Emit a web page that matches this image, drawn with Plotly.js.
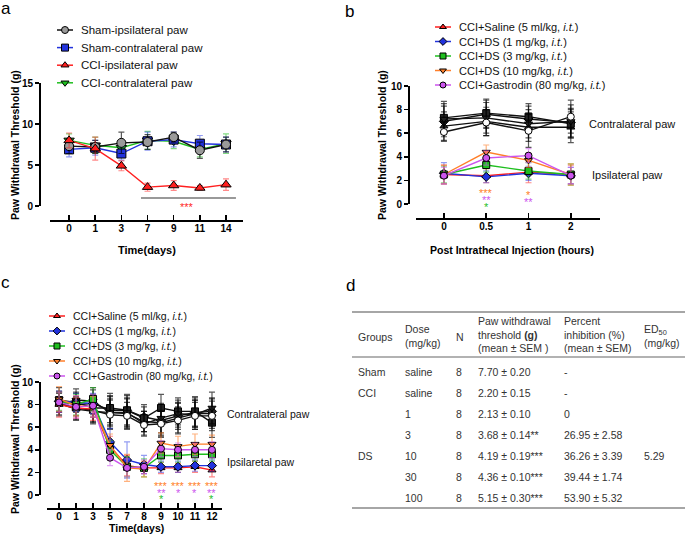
<!DOCTYPE html>
<html><head><meta charset="utf-8">
<script src="https://cdn.plot.ly/plotly-3.0.1.min.js"></script>
<style>html,body{margin:0;padding:0;background:#fff}</style>
</head><body><div id="chart" style="width:685px;height:534px"></div>
<script>
// ---------------- Panel a data ----------------
const daysA = ['0','1','3','7','9','11','14'];
const shamIpsi = [7.3, 7.2, 7.7, 7.8, 8.4, 6.8, 7.5];
const shamIpsiErr = [0.9, 0.8, 1.3, 0.9, 0.6, 1.0, 0.9];
const shamContra = [6.9, 7.1, 6.4, 7.9, 8.1, 7.6, 7.5];
const shamContraErr = [0.9, 0.9, 0.8, 1.1, 0.9, 1.0, 0.9];
const cciIpsi = [8.0, 7.0, 4.9, 2.3, 2.5, 2.2, 2.6];
const cciIpsiErr = [0.9, 1.4, 0.6, 0.5, 0.6, 0.3, 0.7];
const cciContra = [8.0, 7.4, 7.1, 8.0, 7.9, 6.9, 7.6];
const cciContraErr = [0.8, 1.0, 0.9, 1.1, 0.9, 0.9, 1.2];
const legendA = ['Sham-ipsilateral paw','Sham-contralateral paw','CCI-ipsilateral paw','CCI-contralateral paw'];
const starsAx = [4.5];
const starsAy = [-0.13];
const starsAtext = ['***'];

// ---------------- Panel b data ----------------
const hoursB = ['0','0.5','1','2'];
const salineB = [2.5, 2.4, 2.7, 2.5];   const salineBErr = [0.8, 0.6, 0.9, 0.8];
const ds1B = [2.6, 2.3, 2.6, 2.4];      const ds1BErr = [0.9, 0.5, 0.6, 0.7];
const ds3B = [2.5, 3.3, 2.8, 2.5];      const ds3BErr = [0.7, 0.6, 0.7, 0.9];
const ds10B = [2.5, 4.4, 3.7, 2.5];     const ds10BErr = [0.8, 0.6, 0.6, 0.9];
const gasB = [2.4, 3.9, 4.1, 2.4];      const gasBErr = [0.7, 0.6, 0.6, 0.7];
const contraB = [
  [6.6, 7.0, 6.5, 6.5],
  [7.0, 7.6, 7.2, 6.9],
  [7.3, 7.7, 7.4, 6.8],
  [7.2, 7.3, 6.8, 7.0],
  [6.1, 6.9, 6.2, 7.4]
];
const contraBErr = [
  [1.2, 1.2, 1.2, 1.3],
  [1.3, 1.2, 1.1, 1.2],
  [1.4, 1.2, 1.1, 1.2],
  [1.3, 1.3, 1.2, 1.4],
  [0.8, 1.1, 1.4, 1.4]
];
const starsBx = [1, 1, 1, 2, 2];
const starsBy = [0.97, 0.38, -0.24, 0.74, 0.18];
const starsBtext = ['***','**','*','*','**'];
const starsBcolor = ['orange','purple','green','orange','purple'];

// ---------------- Panel c data ----------------
const daysC = ['0','1','3','5','7','8','9','10','11','12'];
const salineC = [8.0, 7.7, 7.6, 4.3, 2.6, 2.4, 2.4, 2.4, 2.5, 2.2];
const salineCErr = [1.1, 0.9, 1.0, 0.9, 0.9, 0.5, 0.5, 0.4, 0.5, 0.6];
const ds1C = [8.3, 8.2, 8.1, 4.7, 3.1, 2.7, 2.5, 2.5, 2.6, 2.6];
const ds1CErr = [0.9, 0.8, 0.9, 1.2, 1.6, 0.8, 0.5, 0.5, 0.5, 0.5];
const ds3C = [8.3, 8.0, 8.5, 4.0, 2.5, 2.4, 3.5, 3.5, 3.6, 3.6];
const ds3CErr = [0.8, 0.9, 1.0, 0.8, 0.9, 0.8, 0.6, 0.6, 0.6, 0.6];
const ds10C = [8.5, 7.9, 7.8, 4.4, 2.4, 2.3, 4.6, 4.3, 4.5, 4.5];
const ds10CErr = [1.1, 0.9, 0.9, 1.0, 1.2, 0.7, 0.9, 0.9, 0.9, 0.8];
const gasC = [8.2, 7.8, 7.9, 3.3, 2.4, 2.5, 4.1, 4.0, 4.0, 4.0];
const gasCErr = [0.9, 1.0, 1.0, 0.7, 0.8, 0.6, 0.7, 0.6, 0.6, 0.7];
const contraC = [
  [8.1, 7.6, 7.4, 7.3, 7.2, 6.5, 6.4, 6.8, 7.2, 7.2],
  [8.3, 8.0, 8.1, 7.5, 7.5, 6.9, 6.6, 7.0, 7.3, 7.4],
  [8.4, 8.2, 7.7, 7.7, 7.5, 6.8, 7.7, 7.4, 7.4, 6.4],
  [8.0, 8.4, 8.3, 7.3, 7.3, 6.3, 6.8, 7.2, 7.1, 7.7],
  [8.2, 7.7, 7.5, 7.1, 7.0, 6.2, 6.3, 6.6, 7.0, 7.0]
];
const contraCErr = [
  [1.0, 1.0, 1.1, 1.2, 1.3, 0.9, 1.2, 1.3, 1.2, 1.3],
  [0.9, 1.0, 1.2, 1.3, 1.4, 0.9, 1.3, 1.2, 1.3, 1.2],
  [1.1, 0.9, 1.2, 1.3, 1.3, 1.2, 1.2, 1.2, 1.3, 1.3],
  [1.0, 1.0, 1.2, 1.4, 1.3, 1.1, 1.3, 1.2, 1.3, 1.4],
  [0.9, 1.0, 1.1, 1.3, 1.2, 0.9, 1.2, 1.2, 1.2, 1.3]
];
const starsCx = [6,6,6, 7,7, 8,8, 9,9,9];
const starsCy = [0.8, 0.2, -0.38, 0.8, 0.2, 0.8, 0.2, 0.8, 0.2, -0.38];
const starsCtext = ['***','**','*','***','*','***','*','***','**','*'];
const starsCcolor = ['orange','purple','green','orange','purple','orange','purple','orange','purple','green'];

const legendBC = ['CCI+Saline (5 ml/kg, <i>i.t.</i>)','CCI+DS (1 mg/kg, <i>i.t.</i>)','CCI+DS (3 mg/kg, <i>i.t.</i>)','CCI+DS (10 mg/kg, <i>i.t.</i>)','CCI+Gastrodin (80 mg/kg, <i>i.t.</i>)'];

// ---------------- Panel d table ----------------
const tblGroups = ['Sham','CCI','','','DS','',''];
const tblDose = ['saline','saline','1','3','10','30','100'];
const tblN = ['8','8','8','8','8','8','8'];
const tblPWT = ['7.70 ± 0.20','2.20 ± 0.15','2.13 ± 0.10','3.68 ± 0.14**','4.19 ± 0.19***','4.36 ± 0.10***','5.15 ± 0.30***'];
const tblInhib = ['-','-','0','26.95 ± 2.58','36.26 ± 3.39','39.44 ± 1.74','53.90 ± 5.32'];
const tblED50 = ['','','','','5.29','',''];
const tblHeaders = ['Groups','Dose<br>(mg/kg)','N','Paw withdrawal<br>threshold <b>(g)</b><br>(mean ± SEM )','Percent<br>inhibition (%)<br>(mean ± SEM)','ED<sub>50</sub><br>(mg/kg)'];

// ---------------- styling ----------------
const F = 'Liberation Sans, Arial, Helvetica, sans-serif';
const W = 685, H = 534;
const P = x => x / W, Q = y => 1 - y / H;
const COL = {red:'#ff1f1f', blue:'#2233dd', green:'#1fbf1f', orange:'#ff7f2a', purple:'#cc55ee', black:'#111111'};
const ECOL = {red:'rgba(255,40,40,0.55)', blue:'rgba(40,60,230,0.5)', green:'rgba(30,190,30,0.55)', orange:'rgba(255,127,42,0.6)', purple:'rgba(204,85,238,0.55)', black:'rgba(0,0,0,0.65)'};

// axis geometry (pixels)
const GEO = {
  a:{x0:50, x1:243, xr:[-0.73, 6.65], xline:220, ybot:206, ytop:83, yr:[0,15], yline:39, dtick:5},
  b:{x0:416, x1:600, xr:[-0.66, 3.69], xline:218, ybot:204, ytop:86, yr:[0,10], yline:408, dtick:2},
  c:{x0:47, x1:222, xr:[-0.71, 9.59], xline:508, ybot:495, ytop:382, yr:[0,10], yline:39, dtick:2}
};
const pxPerUnit = g => (g.ybot - g.ytop) / (g.yr[1] - g.yr[0]);

const traces = [];
function series(xa, ya, yv, ev, col, fill, symbol, size, ecol){
  traces.push({
    type:'scatter', mode:'lines+markers', xaxis:xa, yaxis:ya,
    x: yv.map((_, i) => i), y: yv,
    error_y:{type:'data', array: ev, visible:true, color: ecol, thickness:1.2, width:3},
    line:{color: col, width:1.4},
    marker:{symbol: symbol, size: size, color: fill, line:{color:'#000', width:1}},
    cliponaxis:false, showlegend:false, hoverinfo:'skip'
  });
}
function swatch(cx, cy, half, col, fill, symbol, size){
  traces.push({type:'scatter', mode:'lines', xaxis:'x4', yaxis:'y4', x:[cx-half, cx+half], y:[cy, cy],
    line:{color: col, width:1.5}, showlegend:false, hoverinfo:'skip', cliponaxis:false});
  traces.push({type:'scatter', mode:'markers', xaxis:'x4', yaxis:'y4', x:[cx], y:[cy],
    marker:{symbol: symbol, size: size, color: fill, line:{color:'#000', width:1}}, showlegend:false, hoverinfo:'skip', cliponaxis:false});
}

// Panel a
series('x','y', cciContra, cciContraErr, COL.green, COL.green, 'triangle-down', 9, ECOL.green);
series('x','y', shamContra, shamContraErr, COL.blue, COL.blue, 'square', 9, ECOL.blue);
series('x','y', shamIpsi, shamIpsiErr, COL.black, '#9a9a9a', 'circle', 9, ECOL.black);
series('x','y', cciIpsi, cciIpsiErr, COL.red, COL.red, 'triangle-up', 9, ECOL.red);

// Panel b & c
const symsBC = ['triangle-up','diamond','square','triangle-down','circle'];
const colsBC = ['red','blue','green','orange','purple'];
const blackFill = ['#222','#222','#222','#222','#ffffff'];
contraB.forEach((s, i) => series('x2','y2', s, contraBErr[i], COL.black, blackFill[i], symsBC[i], 7, ECOL.black));
[[salineB, salineBErr],[ds1B, ds1BErr],[ds3B, ds3BErr],[ds10B, ds10BErr],[gasB, gasBErr]]
  .forEach((p, i) => series('x2','y2', p[0], p[1], COL[colsBC[i]], COL[colsBC[i]], symsBC[i], 7, ECOL[colsBC[i]]));
contraC.forEach((s, i) => series('x3','y3', s, contraCErr[i], COL.black, blackFill[i], symsBC[i], 7, ECOL.black));
[[salineC, salineCErr],[ds1C, ds1CErr],[ds3C, ds3CErr],[ds10C, ds10CErr],[gasC, gasCErr]]
  .forEach((p, i) => series('x3','y3', p[0], p[1], COL[colsBC[i]], COL[colsBC[i]], symsBC[i], 7, ECOL[colsBC[i]]));

const annotations = [];
// significance stars: anchored at y>=0 (in range) and shifted in pixels for values below 0
function stars(xr, yr, g, xs, ys, ts, cs){
  const k = pxPerUnit(g);
  xs.forEach((x, i) => {
    const y = ys[i];
    annotations.push({xref:xr, yref:yr, x:x, y:Math.max(y, 0), yshift: y < 0 ? y * k : 0, text:ts[i], showarrow:false,
      xanchor:'center', yanchor:'middle', font:{family:F, size:11, color:COL[cs[i]]}});
  });
}
stars('x','y', GEO.a, starsAx, starsAy, starsAtext, ['red']);
stars('x2','y2', GEO.b, starsBx, starsBy, starsBtext, starsBcolor);
stars('x3','y3', GEO.c, starsCx, starsCy, starsCtext, starsCcolor);

// legends
const legA = {cx:65, y0:30, dy:17.6, tx:79, fs:11.5};
const legAstyle = [[COL.black,'#9a9a9a','circle'],[COL.blue,COL.blue,'square'],[COL.red,COL.red,'triangle-up'],[COL.green,COL.green,'triangle-down']];
legendA.forEach((t, i) => {
  const cy = legA.y0 + i*legA.dy;
  swatch(legA.cx, cy, 8, legAstyle[i][0], legAstyle[i][1], legAstyle[i][2], 7);
  annotations.push({xref:'paper', yref:'paper', x:P(legA.tx), y:Q(cy), xanchor:'left', yanchor:'middle', text:t, showarrow:false, font:{family:F, size:legA.fs, color:'#111'}});
});
function legBC(cx, y0, dy, tx, fs){
  legendBC.forEach((t, i) => {
    const cy = y0 + i*dy;
    swatch(cx, cy, 8, COL[colsBC[i]], COL[colsBC[i]], symsBC[i], 6);
    annotations.push({xref:'paper', yref:'paper', x:P(tx), y:Q(cy), xanchor:'left', yanchor:'middle', text:t, showarrow:false, font:{family:F, size:fs, color:'#111'}});
  });
}
legBC(443, 27, 14.5, 457, 11);
legBC(57, 316, 15, 71, 10.5);

// panel letters
[['a',6,8],['b',349,11],['c',5,282],['d',350,285]].forEach(p => annotations.push({xref:'paper', yref:'paper', x:P(p[1]), y:Q(p[2]), xanchor:'center', yanchor:'middle', text:p[0], showarrow:false, font:{family:F, size:17, color:'#000'}}));

// axis titles
const ytitle = 'Paw Withdrawal Threshold (g)';
[[15,145],[382,145],[15,439]].forEach(p => annotations.push({xref:'paper', yref:'paper', x:P(p[0]), y:Q(p[1]), xanchor:'center', yanchor:'middle', textangle:-90, text:ytitle, showarrow:false, font:{family:F, size:10.5, color:'#000', weight:700}}));
annotations.push({xref:'paper', yref:'paper', x:P(147), y:Q(250), xanchor:'center', yanchor:'middle', text:'Time(days)', showarrow:false, font:{family:F, size:11, color:'#000', weight:700}});
annotations.push({xref:'paper', yref:'paper', x:P(512), y:Q(250), xanchor:'center', yanchor:'middle', text:'Post Intrathecal Injection (hours)', showarrow:false, font:{family:F, size:10.5, color:'#000', weight:700}});
annotations.push({xref:'paper', yref:'paper', x:P(136), y:Q(527.5), xanchor:'center', yanchor:'middle', text:'Time(days)', showarrow:false, font:{family:F, size:10.5, color:'#000', weight:700}});

// side labels
[['Contralateral paw',587,124,11],['Ipsilateral paw',590,175,11],['Contralateral paw',225,414,10.5],['Ipsilaretal paw',225,462,10.5]]
  .forEach(p => annotations.push({xref:'paper', yref:'paper', x:P(p[1]), y:Q(p[2]), xanchor:'left', yanchor:'middle', text:p[0], showarrow:false, font:{family:F, size:p[3], color:'#111'}}));

// table
const tcol = [356, 403, 454, 476, 562, 642];
const hdrY = [337, 336, 337, 334, 334, 336];
const TF = {family:F, size:10.5, color:'#333'};
tblHeaders.forEach((t, j) => annotations.push({xref:'paper', yref:'paper', x:P(tcol[j]), y:Q(hdrY[j]), xanchor:'left', yanchor:'middle', align:'left', text:t, showarrow:false, font:TF}));
const rowY0 = 372, rowDy = 21;
[tblGroups, tblDose, tblN, tblPWT, tblInhib, tblED50].forEach((col, j) => {
  col.forEach((t, i) => { if (t !== '') annotations.push({xref:'paper', yref:'paper', x:P(tcol[j]), y:Q(rowY0 + i*rowDy), xanchor:'left', yanchor:'middle', text:t, showarrow:false, font:TF}); });
});

const shapes = [
  {type:'line', xref:'x', yref:'y', x0:2.75, x1:6.38, y0:0.98, y1:0.98, line:{color:'#777', width:1.5}},
  {type:'line', xref:'paper', yref:'paper', x0:P(352), x1:P(685), y0:Q(312), y1:Q(312), line:{color:'#888', width:1.5}},
  {type:'line', xref:'paper', yref:'paper', x0:P(352), x1:P(685), y0:Q(357), y1:Q(357), line:{color:'#999', width:1.5}},
  {type:'line', xref:'paper', yref:'paper', x0:P(352), x1:P(685), y0:Q(508), y1:Q(508), line:{color:'#888', width:1.5}}
];

function xax(g, labels){
  return {domain:[P(g.x0), P(g.x1)], range:g.xr, anchor:'free', position:Q(g.xline), tickmode:'array', tickvals:labels.map((_, i) => i), ticktext:labels,
    ticks:'inside', ticklen:5, tickwidth:1.5, tickcolor:'#000', showline:true, linewidth:1.5, linecolor:'#000', showgrid:false, zeroline:false,
    ticklabelstandoff:-2,
    tickfont:{family:F, size:10, color:'#000', weight:700}, fixedrange:true};
}
function yax(g){
  return {domain:[Q(g.ybot), Q(g.ytop)], range:g.yr, anchor:'free', position:P(g.yline), tickmode:'linear', tick0:0, dtick:g.dtick,
    ticks:'outside', ticklen:4, tickwidth:1.5, tickcolor:'#000', showline:true, linewidth:1.5, linecolor:'#000', showgrid:false, zeroline:false,
    tickfont:{family:F, size:10, color:'#000', weight:700}, fixedrange:true};
}

const layout = {
  width:W, height:H, margin:{l:0, r:0, t:0, b:0}, paper_bgcolor:'#fff', plot_bgcolor:'rgba(0,0,0,0)',
  showlegend:false, font:{family:F},
  xaxis: xax(GEO.a, daysA), yaxis: yax(GEO.a),
  xaxis2: xax(GEO.b, hoursB), yaxis2: yax(GEO.b),
  xaxis3: xax(GEO.c, daysC), yaxis3: yax(GEO.c),
  xaxis4: {domain:[0,1], range:[0,W], visible:false, fixedrange:true, anchor:'y4'},
  yaxis4: {domain:[0,1], range:[H,0], visible:false, fixedrange:true, anchor:'x4'},
  annotations: annotations, shapes: shapes
};

Plotly.newPlot('chart', traces, layout, {staticPlot:true});
</script>
</body></html>
